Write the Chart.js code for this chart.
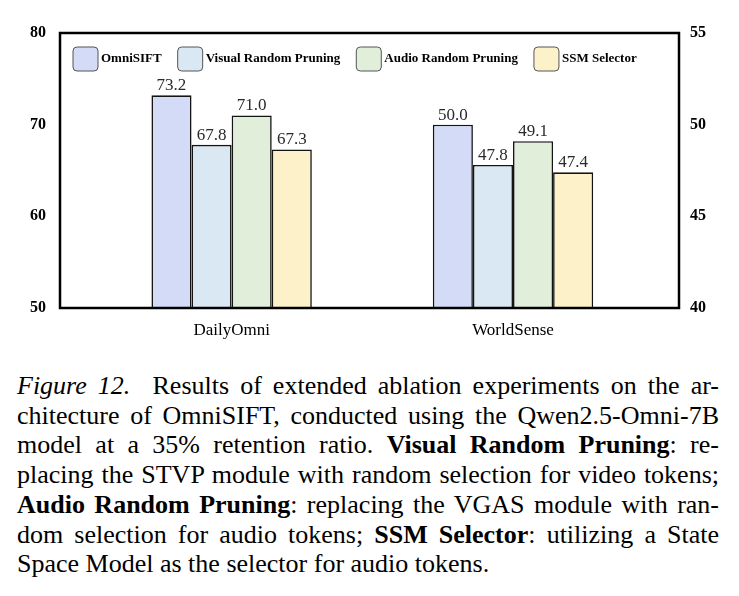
<!DOCTYPE html>
<html>
<head>
<meta charset="utf-8">
<script src="https://cdn.jsdelivr.net/npm/chart.js@4.4.1/dist/chart.umd.min.js"></script>
<style>
    body { margin: 0; background: #fff; }
    #wrap { position: relative; width: 739px; height: 350px; }
    .caption {
        font-family: "Liberation Serif", "Times New Roman", serif;
        font-size: 26px;
        line-height: 29.7px;
        color: #000;
        width: 702px;
        margin: 21px 0 0 17px;
    }
    .caption div { text-align: justify; text-align-last: justify; }
    .caption div.last { text-align-last: left; }
</style>
</head>
<body>
<div id="wrap"><canvas id="graph"></canvas></div>
<div class="caption">
    <div><i>Figure 12.</i>&nbsp; Results of extended ablation experiments on the ar-</div>
    <div>chitecture of OmniSIFT, conducted using the Qwen2.5-Omni-7B</div>
    <div>model at a 35% retention ratio. <b>Visual Random Pruning</b>: re-</div>
    <div>placing the STVP module with random selection for video tokens;</div>
    <div><b>Audio Random Pruning</b>: replacing the VGAS module with ran-</div>
    <div>dom selection for audio tokens; <b>SSM Selector</b>: utilizing a State</div>
    <div class="last">Space Model as the selector for audio tokens.</div>
</div>
<script>
const categories = ["DailyOmni", "WorldSense"];
const seriesNames = ["OmniSIFT", "Visual Random Pruning", "Audio Random Pruning", "SSM Selector"];
const dailyOmni = [73.2, 67.8, 71.0, 67.3];   // left axis
const worldSense = [50.0, 47.8, 49.1, 47.4];  // right axis
const leftTicks = [50, 60, 70, 80];
const rightTicks = [40, 45, 50, 55];
const colors = ["#d3dbf6", "#d9e8f3", "#e1eed9", "#fdf1c9"];

const serif = "'Liberation Serif', 'Times New Roman', serif";

// one dataset per series and per group, nulls are skipped so bars stay grouped
const datasets = [];
seriesNames.forEach((name, i) => {
    datasets.push({
        label: name,
        data: [{x: 0, y: dailyOmni[i]}, {x: 1, y: null}],
        yAxisID: "y",
        backgroundColor: colors[i]
    });
});
seriesNames.forEach((name, i) => {
    datasets.push({
        label: name,
        data: [{x: 0, y: null}, {x: 1, y: worldSense[i]}],
        yAxisID: "y1",
        backgroundColor: colors[i]
    });
});

const frame = {
    id: "frame",
    afterDatasetsDraw(chart) {
        const {ctx, chartArea: a} = chart;
        ctx.save();
        ctx.strokeStyle = "#000";
        ctx.lineWidth = 2.5;
        ctx.strokeRect(a.left, a.top, a.right - a.left, a.bottom - a.top);
        ctx.restore();
    }
};

const valueLabels = {
    id: "valueLabels",
    afterDatasetsDraw(chart) {
        const {ctx} = chart;
        ctx.save();
        ctx.font = "17px " + serif;
        ctx.fillStyle = "#2a2a2a";
        ctx.textAlign = "center";
        ctx.textBaseline = "bottom";
        chart.data.datasets.forEach((ds, di) => {
            chart.getDatasetMeta(di).data.forEach((bar, i) => {
                const v = ds.data[i].y;
                if (v === null) return;
                ctx.fillText(v.toFixed(1), bar.x, bar.y - 1);
            });
        });
        ctx.restore();
    }
};

const boxLegend = {
    id: "boxLegend",
    afterDraw(chart) {
        const {ctx, chartArea: a} = chart;
        ctx.save();
        ctx.font = "bold 13px " + serif;
        ctx.textBaseline = "middle";
        let x = a.left + 13;
        const y = a.top + 14;
        seriesNames.forEach((name, i) => {
            ctx.beginPath();
            ctx.roundRect(x, y, 25, 24, 4);
            ctx.fillStyle = colors[i];
            ctx.fill();
            ctx.strokeStyle = "#555";
            ctx.lineWidth = 1;
            ctx.stroke();
            ctx.fillStyle = "#000";
            ctx.fillText(name, x + 28, y + 12);
            x += 28 + ctx.measureText(name).width + 16;
        });
        ctx.restore();
    }
};

const tickFont = {family: serif, size: 16, weight: "bold"};

new Chart(document.querySelector("#graph"), {
    type: "bar",
    data: {datasets: datasets},
    options: {
        responsive: true,
        maintainAspectRatio: false,
        animation: false,
        layout: {padding: {top: 33, left: 0, right: 0, bottom: 0}},
        datasets: {
            bar: {
                skipNull: true,
                categoryPercentage: 0.57,
                barPercentage: 1,
                borderColor: "#141414",
                borderWidth: 1.6
            }
        },
        plugins: {
            legend: {display: false},
            tooltip: {enabled: false}
        },
        scales: {
            x: {
                type: "linear",
                min: -0.61,
                max: 1.59,
                offset: false,
                grid: {display: false, offset: false, drawTicks: false},
                border: {display: false},
                afterBuildTicks: scale => { scale.ticks = categories.map((_, i) => ({value: i})); },
                afterFit: scale => { scale.height = 42; },
                ticks: {
                    callback: v => categories[v],
                    font: {family: serif, size: 17},
                    color: "#000",
                    padding: 12,
                    autoSkip: false,
                    maxRotation: 0
                }
            },
            y: {
                position: "left",
                min: leftTicks[0],
                max: leftTicks[leftTicks.length - 1],
                grid: {display: false, drawTicks: false},
                border: {display: false},
                afterBuildTicks: scale => { scale.ticks = leftTicks.map(v => ({value: v})); },
                afterFit: scale => { scale.width = 60; },
                ticks: {font: tickFont, color: "#000", padding: 14}
            },
            y1: {
                position: "right",
                min: rightTicks[0],
                max: rightTicks[rightTicks.length - 1],
                grid: {display: false, drawTicks: false},
                border: {display: false},
                afterBuildTicks: scale => { scale.ticks = rightTicks.map(v => ({value: v})); },
                afterFit: scale => { scale.width = 60; },
                ticks: {font: tickFont, color: "#000", padding: 11}
            }
        }
    },
    plugins: [valueLabels, frame, boxLegend]
});
</script>
</body>
</html>
